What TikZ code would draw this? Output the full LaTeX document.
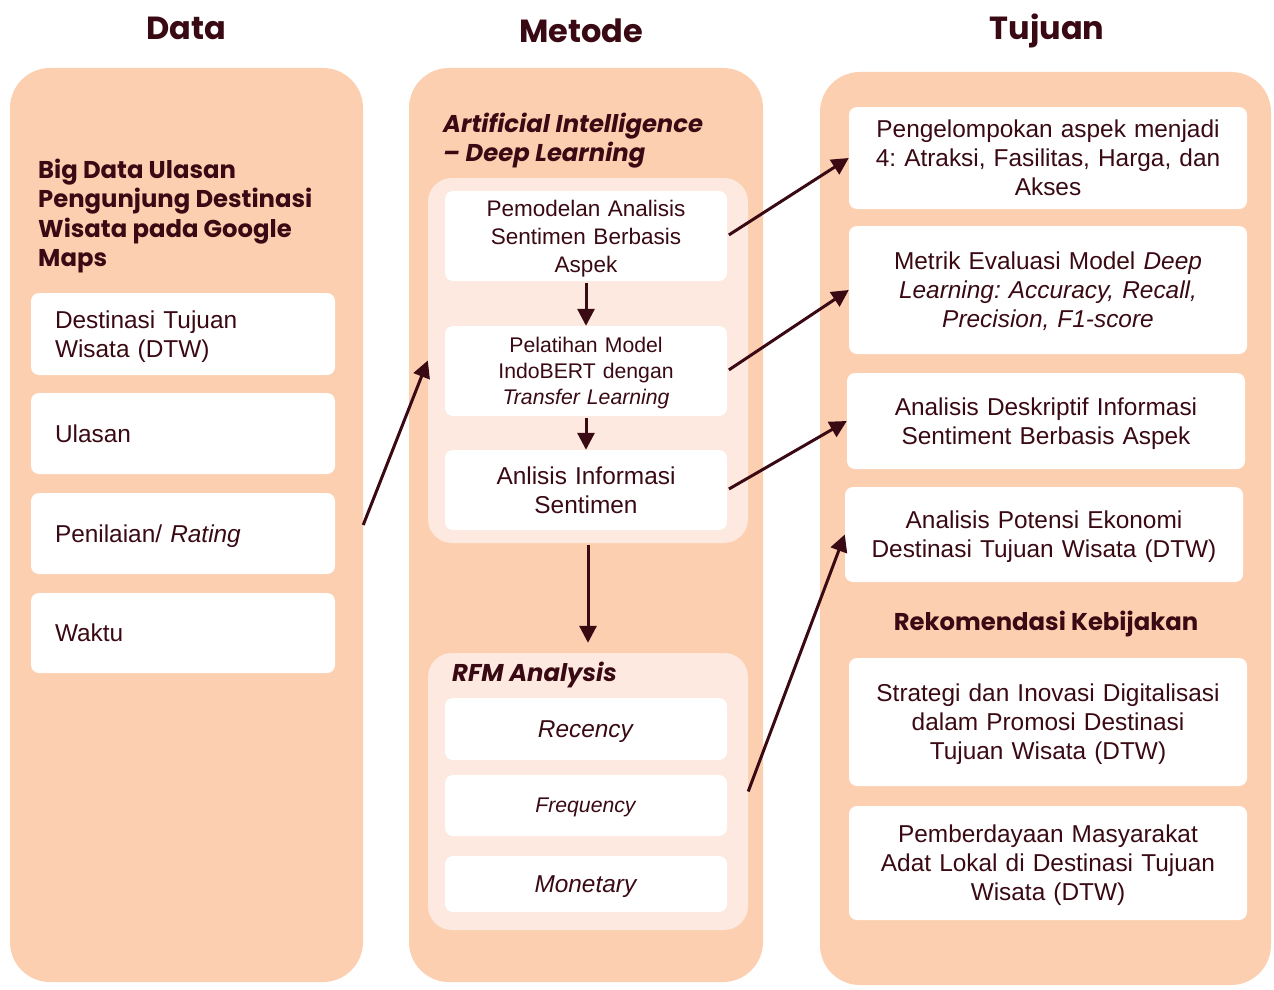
\documentclass[tikz,border=0pt]{standalone}
\usepackage{fontspec}
\setmainfont{Liberation Sans}
\newfontfamily\pop{Poppins}
\usetikzlibrary{arrows.meta}
\frenchspacing
\definecolor{ink}{HTML}{3A0A14}
\definecolor{peach}{HTML}{FCCFB0}
\definecolor{lightpeach}{HTML}{FDE9DF}
\tikzset{
  panel/.style={fill=peach, draw=none, rounded corners=40pt, inner sep=0pt},
  inpanel/.style={fill=lightpeach, draw=none, rounded corners=24pt, inner sep=0pt},
  wbox/.style={fill=white, draw=none, rounded corners=8pt, inner sep=0pt, text=ink, align=center,
     font=\fontsize{24.4}{29}\selectfont, execute at end node={\par\kern-\prevdepth}},
  lbox/.style={wbox, align=left, inner xsep=24pt, text width=256pt},
  title/.style={text=ink, font=\pop\bfseries\fontsize{32}{38}\selectfont, inner sep=0pt, anchor=base},
  head/.style={text=ink, font=\pop\bfseries\fontsize{24.3}{29.5}\selectfont, inner sep=0pt, align=left},
  headit/.style={head, font=\pop\bfseries\itshape\fontsize{24.3}{29}\selectfont},
  arr/.style={draw=ink, line width=3pt, -{Triangle[length=17pt,width=17pt]}},
}
\begin{document}
\begin{tikzpicture}[x=1pt,y=-1pt]
\useasboundingbox (0,0) rectangle (1274,990);
% titles
\node[title] (tdata) at (186,40) {Data};
\node[title] (tmet) at (581,43) {Metode};
\node[title] (ttuj) at (1047,40) {Tujuan};
% panels
\node[panel, minimum width=353pt, minimum height=914pt] (pdata) at (186.5,525) {};
\node[panel, minimum width=354pt, minimum height=914pt] (pmet) at (586,525) {};
\node[panel, minimum width=451pt, minimum height=913pt] (ptuj) at (1045.5,528.5) {};
% data column
\node[head, anchor=west] (hdata) at (38,216) {Big Data Ulasan\\Pengunjung Destinasi\\Wisata pada Google\\Maps};
\node[lbox, minimum height=82pt] (d1) at (183,334) {Destinasi Tujuan\\Wisata (DTW)};
\node[lbox, minimum height=81pt] (d2) at (183,433.5) {Ulasan};
\node[lbox, minimum height=81pt] (d3) at (183,533.5) {Penilaian/ \textit{Rating}};
\node[lbox, minimum height=80pt] (d4) at (183,633) {Waktu};
% metode column
\node[headit, anchor=west] (hai) at (443,141) {Artificial Intelligence\\– Deep Learning};
\node[inpanel, minimum width=320pt, minimum height=365pt] (ai) at (588,360.5) {};
\node[wbox, minimum width=282pt, minimum height=90pt, text width=270pt, font=\fontsize{22.5}{28}\selectfont] (a1) at (586,236) {Pemodelan Analisis\\Sentimen Berbasis\\Aspek};
\node[wbox, minimum width=282pt, minimum height=90pt, text width=270pt, font=\fontsize{21.2}{26}\selectfont] (a2) at (586,371) {Pelatihan Model\\IndoBERT dengan\\\textit{Transfer Learning}};
\node[wbox, minimum width=282pt, minimum height=80pt, text width=270pt] (a3) at (586,490) {Anlisis Informasi\\Sentimen};
\node[inpanel, minimum width=320pt, minimum height=277pt] (rfm) at (588,791.5) {};
\node[headit, anchor=west] (hrfm) at (452,675) {RFM Analysis};
\node[wbox, minimum width=282pt, minimum height=62pt, text width=270pt] (r1) at (586,729) {\textit{Recency}};
\node[wbox, minimum width=282pt, minimum height=61pt, text width=270pt, font=\fontsize{21.2}{26}\selectfont] (r2) at (586,805.5) {\textit{Frequency}};
\node[wbox, minimum width=282pt, minimum height=56pt, text width=270pt] (r3) at (586,884) {\textit{Monetary}};
% tujuan column
\node[wbox, minimum width=398pt, minimum height=102pt, text width=385pt] (t1) at (1048,158) {Pengelompokan aspek menjadi\\4: Atraksi, Fasilitas, Harga, dan\\Akses};
\node[wbox, minimum width=398pt, minimum height=128pt, text width=385pt] (t2) at (1048,290) {Metrik Evaluasi Model \textit{Deep}\\\textit{Learning: Accuracy, Recall,}\\\textit{Precision, F1-score}};
\node[wbox, minimum width=398pt, minimum height=96pt, text width=385pt] (t3) at (1046,421) {Analisis Deskriptif Informasi\\Sentiment Berbasis Aspek};
\node[wbox, minimum width=398pt, minimum height=95pt, text width=385pt] (t4) at (1044,534.5) {Analisis Potensi Ekonomi\\Destinasi Tujuan Wisata (DTW)};
\node[head, anchor=base, align=center] (hrek) at (1046,630) {Rekomendasi Kebijakan};
\node[wbox, minimum width=398pt, minimum height=128pt, text width=385pt] (t5) at (1048,722) {Strategi dan Inovasi Digitalisasi\\dalam Promosi Destinasi\\Tujuan Wisata (DTW)};
\node[wbox, minimum width=398pt, minimum height=114pt, text width=385pt] (t6) at (1048,863) {Pemberdayaan Masyarakat\\Adat Lokal di Destinasi Tujuan\\Wisata (DTW)};
% connectors
\draw[arr] (pdata.east) -- (ai.west);
\draw[arr, shorten <=2pt] (a1.south) -- (a2.north);
\draw[arr, shorten <=2pt] (a2.south) -- (a3.north);
\draw[arr, shorten <=2pt, shorten >=10pt] (ai.south) -- (rfm.north);
\draw[arr, shorten <=2pt] (a1.east) -- (t1.west);
\draw[arr, shorten <=2pt] (a2.east) -- (t2.west);
\draw[arr, shorten <=2pt] (a3.east) -- (t3.west);
\draw[arr] (rfm.east) -- (t4.west);
\end{tikzpicture}
\end{document}
